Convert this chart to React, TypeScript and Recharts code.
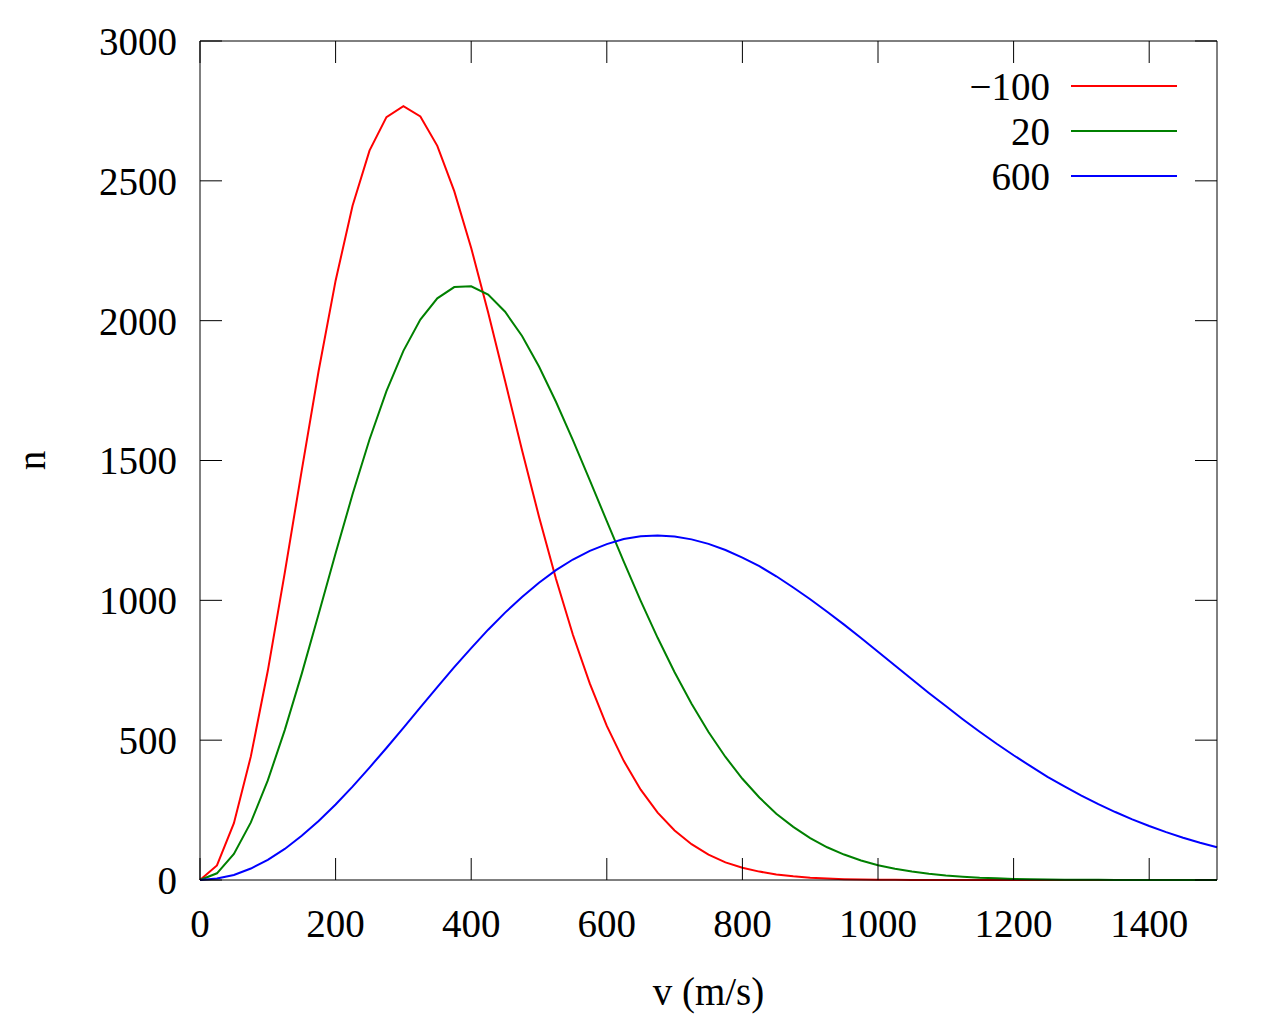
import React from 'react';
import { LineChart, Line, XAxis, YAxis, Legend, Label } from 'recharts';

// speed samples (m/s)
const velocity = [
  0, 25, 50, 75, 100, 125, 150, 175, 200, 225,
  250, 275, 300, 325, 350, 375, 400, 425, 450, 475,
  500, 525, 550, 575, 600, 625, 650, 675, 700, 725,
  750, 775, 800, 825, 850, 875, 900, 925, 950, 975,
  1000, 1025, 1050, 1075, 1100, 1125, 1150, 1175, 1200, 1225,
  1250, 1275, 1300, 1325, 1350, 1375, 1400, 1425, 1450, 1475,
  1500,
];

// n at -100
const nMinus100 = [
  0, 52, 203, 442, 748, 1098, 1464, 1821, 2143, 2411,
  2608, 2728, 2767, 2730, 2625, 2463, 2260, 2029, 1784, 1537,
  1299, 1077, 877, 702, 551, 426, 323, 241, 177, 128,
  91, 63, 44, 30, 20, 13, 8, 5, 3, 2,
  1, 1, 0, 0, 0, 0, 0, 0, 0, 0,
  0, 0, 0, 0, 0, 0, 0, 0, 0, 0,
  0,
];

// n at 20
const n20 = [
  0, 24, 93, 206, 356, 536, 737, 951, 1168, 1379,
  1575, 1748, 1892, 2004, 2080, 2120, 2123, 2093, 2032, 1945,
  1836, 1710, 1573, 1429, 1283, 1138, 998, 866, 743, 630,
  529, 440, 362, 295, 237, 190, 150, 117, 91, 70,
  53, 40, 30, 22, 16, 12, 8, 6, 4, 3,
  2, 1, 1, 1, 0, 0, 0, 0, 0, 0,
  0,
];

// n at 600
const n600 = [
  0, 5, 18, 41, 72, 111, 158, 211, 270, 334,
  402, 472, 544, 617, 690, 761, 829, 895, 956, 1012,
  1063, 1108, 1146, 1177, 1201, 1219, 1229, 1232, 1228, 1218,
  1202, 1180, 1153, 1122, 1086, 1046, 1004, 959, 913, 865,
  816, 767, 718, 669, 622, 575, 530, 487, 446, 407,
  369, 335, 302, 271, 243, 217, 193, 171, 151, 133,
  117,
];

const seriesNames = ['−100', '20', '600'];
const xTicks = [0, 200, 400, 600, 800, 1000, 1200, 1400];
const yTicks = [0, 500, 1000, 1500, 2000, 2500, 3000];

const data = velocity.map((v, i) => ({
  v,
  m100: nMinus100[i],
  p20: n20[i],
  p600: n600[i],
}));

const FONT = '"Liberation Serif", "DejaVu Serif", serif';
const FS = 39;
const tickStyle = { fill: '#000', fontSize: FS, fontFamily: FONT };
const blank = () => '';

const renderLegend = (props: any) => {
  const items = (props.payload || []).filter((it: any) => seriesNames.includes(it.value));
  items.sort((a: any, b: any) => seriesNames.indexOf(a.value) - seriesNames.indexOf(b.value));
  return (
    <div style={{ fontFamily: FONT, fontSize: FS, color: '#000' }}>
      {items.map((it: any) => (
        <div key={it.value} style={{ display: 'flex', alignItems: 'center', height: 45 }}>
          <span style={{ width: 120, textAlign: 'right', lineHeight: '45px' }}>{it.value}</span>
          <svg width={106} height={4} style={{ marginLeft: 21 }}>
            <line x1={0} y1={2} x2={106} y2={2} stroke={it.color} strokeWidth={2} />
          </svg>
        </div>
      ))}
    </div>
  );
};

export default function App() {
  return (
    <div style={{ position: 'absolute', left: 0, top: 0, width: 1280, height: 1024, background: '#fff' }}>
      <LineChart
        width={1280}
        height={1024}
        data={data}
        margin={{ top: 40, right: 62, bottom: 0, left: 0 }}
        style={{ fontFamily: FONT }}
      >
        <XAxis
          dataKey="v"
          type="number"
          domain={[0, 1500]}
          ticks={xTicks}
          height={144}
          stroke="#000"
          tickSize={-22}
          tickMargin={51}
          tick={tickStyle}
          interval={0}
        >
          <Label value="v (m/s)" position="insideBottom" offset={19} fill="#000" fontSize={FS} fontFamily={FONT} />
        </XAxis>
        <XAxis
          xAxisId="top"
          orientation="top"
          dataKey="v"
          type="number"
          domain={[0, 1500]}
          ticks={xTicks}
          height={1}
          stroke="#000"
          tickSize={-22}
          tickFormatter={blank}
          interval={0}
        />
        <YAxis
          type="number"
          domain={[0, 3000]}
          ticks={yTicks}
          width={200}
          stroke="#000"
          tickSize={-22}
          tickMargin={45}
          tick={tickStyle}
          interval={0}
        >
          <Label
            content={(p: any) => {
              const vb = p.viewBox || { y: 41, height: 839 };
              return (
                <text
                  transform={`translate(45, ${vb.y + vb.height / 2}) rotate(-90)`}
                  textAnchor="middle"
                  fill="#000"
                  fontSize={FS}
                  fontFamily={FONT}
                >
                  n
                </text>
              );
            }}
          />
        </YAxis>
        <YAxis
          yAxisId="right"
          orientation="right"
          type="number"
          domain={[0, 3000]}
          ticks={yTicks}
          width={1}
          stroke="#000"
          tickSize={-22}
          tickFormatter={blank}
          interval={0}
        />
        <Legend
          layout="vertical"
          align="center"
          verticalAlign="middle"
          content={renderLegend}
          wrapperStyle={{ position: 'absolute', left: 930, top: 63.5, width: 260, height: 135 }}
        />
        {/* invisible series so the mirrored top/right border axes get drawn */}
        <Line
          xAxisId="top"
          yAxisId="right"
          dataKey="p600"
          name="mirror"
          stroke="transparent"
          legendType="none"
          dot={false}
          activeDot={false}
          isAnimationActive={false}
        />
        <Line type="linear" dataKey="m100" name="−100" stroke="#ff0000" strokeWidth={2} dot={false} isAnimationActive={false} />
        <Line type="linear" dataKey="p20" name="20" stroke="#008000" strokeWidth={2} dot={false} isAnimationActive={false} />
        <Line type="linear" dataKey="p600" name="600" stroke="#0000ff" strokeWidth={2} dot={false} isAnimationActive={false} />
      </LineChart>
    </div>
  );
}
